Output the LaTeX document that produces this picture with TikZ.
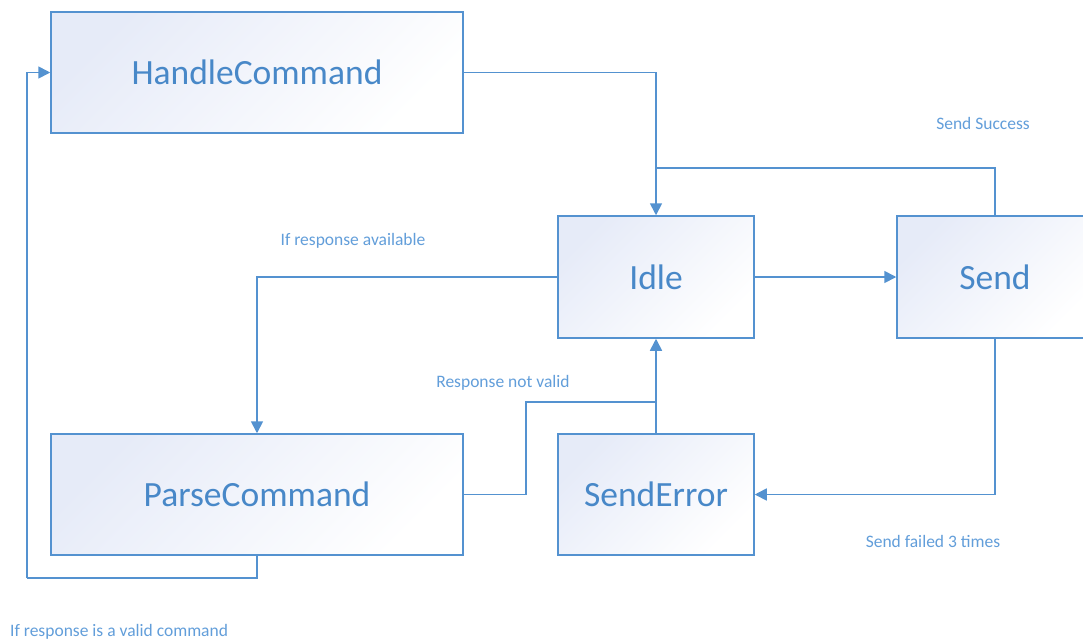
\documentclass[tikz,border=0pt]{standalone}
\usepackage{fontspec}
\setmainfont{Carlito}
\usetikzlibrary{arrows.meta}
\definecolor{lineblue}{RGB}{84,146,208}
\definecolor{textblue}{RGB}{72,136,200}
\definecolor{lblblue}{RGB}{98,158,218}
\definecolor{boxfill}{RGB}{230,235,248}
\tikzset{
  statebox/.style={draw=lineblue, line width=1.5pt, rectangle, inner sep=0pt,
    top color=boxfill, bottom color=white, shading angle=45,
    text=textblue, font=\fontsize{35.5}{40}\selectfont},
  conn/.style={draw=lineblue, line width=1.7pt},
  arr/.style={conn, -{Triangle[length=12pt,width=12pt]}},
  lbl/.style={text=lblblue, font=\fontsize{17.5}{20}\selectfont, inner sep=0pt}
}
\begin{document}
\begin{tikzpicture}[x=1pt,y=-1pt]
\useasboundingbox (0,0) rectangle (1083,643);
\clip (0,0) rectangle (1083,643);
\fill[white] (0,0) rectangle (1083,643);
\node[statebox, minimum width=412pt, minimum height=121pt] (hc) at (257,72.5) {HandleCommand};
\node[statebox, minimum width=196pt, minimum height=122pt] (idle) at (656,277) {Idle};
\node[statebox, minimum width=196pt, minimum height=122pt] (send) at (995,277) {Send};
\node[statebox, minimum width=412pt, minimum height=121pt] (pc) at (257,494.5) {ParseCommand};
\node[statebox, minimum width=196pt, minimum height=121pt] (se) at (656,494.5) {SendError};
\coordinate (j1) at (656,168);
\coordinate (b2) at (526,402);
\coordinate (j2) at (656,402);
\coordinate (b4) at (27,578);
\draw[arr] (hc.east) -| (idle.north);
\draw[conn] (send.north) |- (j1);
\draw[arr] (idle.east) -- (send.west);
\draw[arr] (idle.west) -| (pc.north);
\draw[conn] (pc.east) -| (b2) -- (j2);
\draw[arr] (se.north) -- (idle.south);
\draw[arr] (send.south) |- (se.east);
\draw[conn] (pc.south) |- (b4);
\draw[arr] (b4) |- (hc.west);
\node[lbl] (l1) at (983,123) {Send Success};
\node[lbl] (l2) at (353,241) {If response available};
\node[lbl] (l3) at (503,383) {Response not valid};
\node[lbl] (l4) at (933,541) {Send failed 3 times};
\node[lbl, anchor=west] (l5) at (10,632) {If response is a valid command};
\end{tikzpicture}
\end{document}
